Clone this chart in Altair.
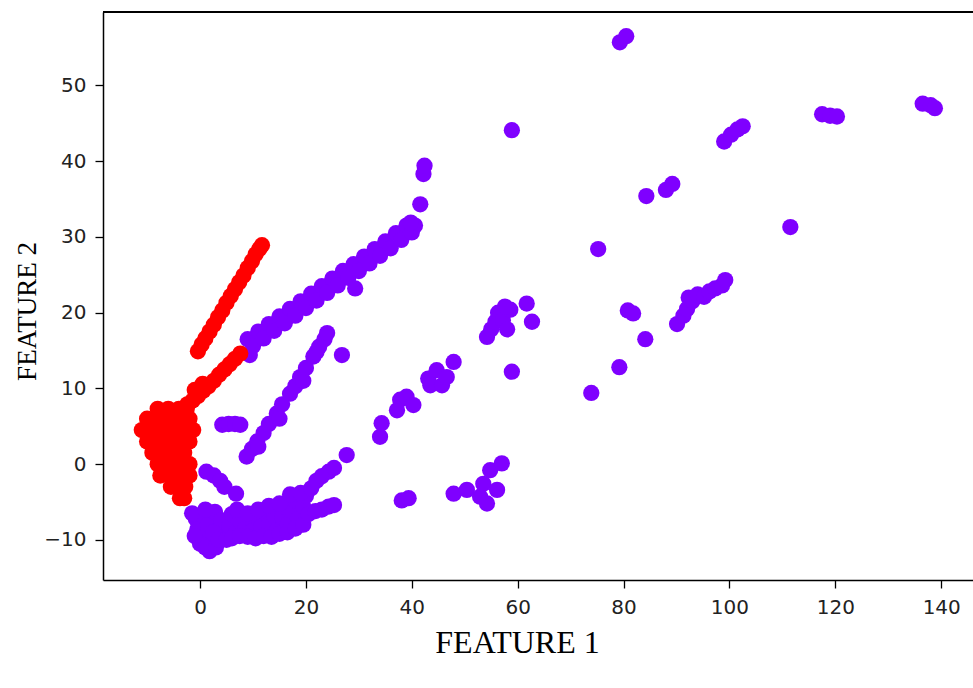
import altair as alt
import pandas as pd

# ---- cluster 0 (purple) ----
purple_f1 = [
    # long diagonal band
    9.4, 9, 11, 13, 15, 17, 19, 21, 23, 25, 27, 29, 31, 33, 35, 37, 39,
    10, 12, 14, 16, 18, 20, 22, 24, 26, 28, 30, 32, 34, 36, 38, 40, 40.6, 39.8,
    29.3, 41.6, 42.2, 42.4,
    # steep band
    8.8, 9.8, 10.8, 11.0, 12.0, 13.0, 14.5, 15.0, 15.5, 17.0, 18.0, 18.9, 19.5, 20.0, 21.4, 22.0, 22.5, 23.5, 24.0,
    26.8,
    # short horizontal piece
    4.2, 5.4, 6.6, 7.6,
    # small group next to red blob
    1.2, 2.6, 3.8, 4.6, 6.8,
    # dense lower group
    -0.8, -0.5, 0.5, 0.8, 1.5, 1.8, 2.3, 2.8, 3.0, 4.0, 4.3, 5.5, 6.0, 6.8, 7.5, 8.5, 9.5, 10.0,
    11.0, 11.5, 12.5, 13.0, 14.0, 14.5, 15.5, 16.0, 16.5, 17.5, 18.0, 18.5, 19.5, 20.0,
    0.0, 1.0, 3.0, 2.5, 3.5, 5.0, 6.0, 7.5, 9.0, 10.5, 12.0, 13.5, 15.0, 16.5, 18.0, 19.5,
    -1.0, -1.5, 1.0, 7.0, 9.0, 11.0, 13.0, 15.0, 17.0, 19.0,
    21.0, 22.0, 23.0, 24.3, 25.3, 27.7,
    20.5, 21.8, 23.0, 24.3, 25.3,
    # middle groups
    34.0, 34.3,
    37.2, 37.8, 39.0, 40.3,
    43.1, 43.5, 44.7, 45.7, 46.6, 47.9,
    54.2, 55.0, 55.8, 56.3, 57.2, 58.0, 58.6, 57.6, 61.7, 62.7,
    58.9,
    38.1, 39.4,
    47.9, 50.4, 52.9, 54.2, 53.5, 54.8, 57.0, 56.1,
    # right side
    75.2, 111.5, 80.8, 81.8, 84.1, 79.2, 73.9,
    90.1, 91.3, 92.0, 93.0, 92.3, 94.0, 95.2, 96.2, 97.3, 98.6, 99.2,
    79.3, 80.5,
    99.0, 100.3, 101.5, 102.5,
    117.5, 119.0, 120.3,
    136.5, 138.0, 138.8,
    84.3, 88.0, 89.2,
    58.9,
]
purple_f2 = [
    14.4, 16.5, 17.5, 18.5, 19.5, 20.5, 21.5, 22.5, 23.5, 24.5, 25.5, 26.4, 27.4, 28.4, 29.4, 30.5, 31.5,
    15.6, 16.6, 17.6, 18.6, 19.6, 20.6, 21.6, 22.6, 23.6, 24.6, 25.5, 26.5, 27.5, 28.5, 29.6, 30.6, 31.5, 31.9,
    23.2, 34.3, 38.3, 39.4,
    1.0, 2.0, 3.0, 2.3, 4.1, 5.3, 6.7, 6.0, 7.9, 9.3, 10.3, 11.5, 11.0, 12.7, 14.2, 14.8, 15.5, 16.5, 17.3,
    14.4,
    5.2, 5.3, 5.3, 5.2,
    -1.0, -1.5, -2.2, -3.0, -3.9,
    -7.2, -8.6, -6.8, -9.8, -8.0, -11.5, -10.2, -6.3, -8.8, -7.4, -9.6, -8.2, -6.6, -9.0, -7.5, -8.6, -7.2, -8.8,
    -7.0, -8.3, -6.5, -8.0, -6.8, -8.8, -7.0, -5.6, -8.0, -6.3, -4.8, -7.2, -5.6, -4.2,
    -10.5, -11.0, -11.0, -9.0, -10.0, -10.0, -9.8, -9.5, -9.6, -9.8, -9.5, -9.6, -9.2, -9.0, -8.5, -8.0,
    -9.5, -6.5, -6.0, -6.0, -6.5, -6.0, -5.5, -5.2, -4.0, -3.8,
    -3.2, -2.2, -1.6, -1.0, -0.5, 1.2,
    -6.6, -6.2, -6.0, -5.6, -5.4,
    3.6, 5.4,
    7.1, 8.5, 8.9, 7.8,
    11.3, 10.4, 12.4, 10.4, 11.5, 13.5,
    16.8, 17.8, 18.8, 20.0, 19.0, 17.8, 20.4, 20.8, 21.2, 18.8,
    12.2,
    -4.8, -4.5,
    -3.9, -3.4, -4.3, -5.2, -2.6, -0.8, 0.1, -3.4,
    28.4, 31.3, 20.3, 19.9, 16.5, 12.8, 9.4,
    18.5, 19.6, 20.5, 21.5, 22.0, 22.4, 22.1, 22.8, 23.2, 23.6, 24.3,
    55.7, 56.5,
    42.6, 43.5, 44.2, 44.6,
    46.2, 46.0, 45.9,
    47.6, 47.4, 47.0,
    35.4, 36.2, 37.0,
    44.1,
]

# ---- cluster 1 (red) ----
red_f1 = [
    # upper red line
    -0.4, 0.3, 1.0, 1.8, 2.6, 3.4, 4.2, 5.0, 5.8, 6.6, 7.4, 8.2, 9.0, 9.8, 10.5, 11.2, 11.7,
    # lower red band
    7.6, 6.6, 5.6, 4.6, 3.6, 2.6, 1.6, 0.6, -0.4, -1.4, -2.4, -1.0, 0.5,
    # red blob
    -8, -6, -4, -2.5,
    -10, -8, -6, -4, -2,
    -11, -9, -7, -5, -3, -1.3,
    -10, -8, -6, -4, -2,
    -9, -7, -5, -3,
    -8, -6, -4, -2,
    -7.5, -5.5, -3.5, -2,
    -5.5, -4, -2.8,
    -3.8, -3.0,
]
red_f2 = [
    14.9, 15.8, 16.6, 17.5, 18.4, 19.4, 20.3, 21.3, 22.2, 23.1, 24.0, 24.9, 25.9, 26.8, 27.7, 28.4, 28.9,
    14.6, 13.9, 13.2, 12.5, 11.8, 11.0, 10.3, 9.7, 9.0, 8.4, 7.9, 9.8, 10.6,
    7.3, 7.3, 7.3, 7.3,
    6.0, 6.0, 6.0, 6.0, 6.0,
    4.5, 4.5, 4.5, 4.5, 4.5, 4.5,
    3.0, 3.0, 3.0, 3.0, 3.0,
    1.5, 1.5, 1.5, 1.5,
    0.0, 0.0, 0.0, 0.0,
    -1.5, -1.5, -1.5, -1.5,
    -3.0, -3.0, -3.0,
    -4.5, -4.5,
]

x_ticks = [0, 20, 40, 60, 80, 100, 120, 140]
y_ticks = [-10, 0, 10, 20, 30, 40, 50]

df = pd.DataFrame({
    "f1": purple_f1 + red_f1,
    "f2": purple_f2 + red_f2,
    "cluster": ["0"] * len(purple_f1) + ["1"] * len(red_f1),
})

W, H = 870, 568

points = alt.Chart(df).mark_circle(size=265, opacity=1).encode(
    x=alt.X("f1:Q",
            scale=alt.Scale(domain=[-18.33, 146.0], nice=False, zero=False),
            axis=alt.Axis(values=x_ticks, title="FEATURE 1", grid=False,
                          titleX=414, titleY=62, titleBaseline="middle",
                          titleAlign="center", labelPadding=9,
                          titleFontSize=32)),
    y=alt.Y("f2:Q",
            scale=alt.Scale(domain=[-15.3, 59.7], nice=False, zero=False),
            axis=alt.Axis(values=y_ticks, title="FEATURE 2", grid=False,
                          titleX=-76, titleY=299, titleAngle=270,
                          titleBaseline="middle", titleAlign="center",
                          labelPadding=9, titleFontSize=27)),
    color=alt.Color("cluster:N",
                    scale=alt.Scale(domain=["0", "1"], range=["#7f00ff", "#ff0000"]),
                    legend=None),
)

top_spine = alt.Chart(df).mark_rule(color="#000000", strokeWidth=1.5).encode(
    x=alt.value(0), x2=alt.value(W), y=alt.value(0)
)

chart = alt.layer(points, top_spine).properties(
    width=W, height=H,
    autosize=alt.AutoSizeParams(type="none"),
    padding={"left": 103, "top": 12, "right": 0, "bottom": 96},
).configure_view(
    stroke=None
).configure_axis(
    domain=True, domainColor="#000000", domainWidth=1.5,
    tickSize=8, tickColor="#000000", tickWidth=1.3,
    labelFont="DejaVu Sans", labelFontSize=20, labelColor="#222222",
    titleFont="Liberation Serif", titleFontWeight="normal",
    titleColor="#000000",
)

chart.save("out.html", embed_options={"renderer": "svg", "actions": False})
